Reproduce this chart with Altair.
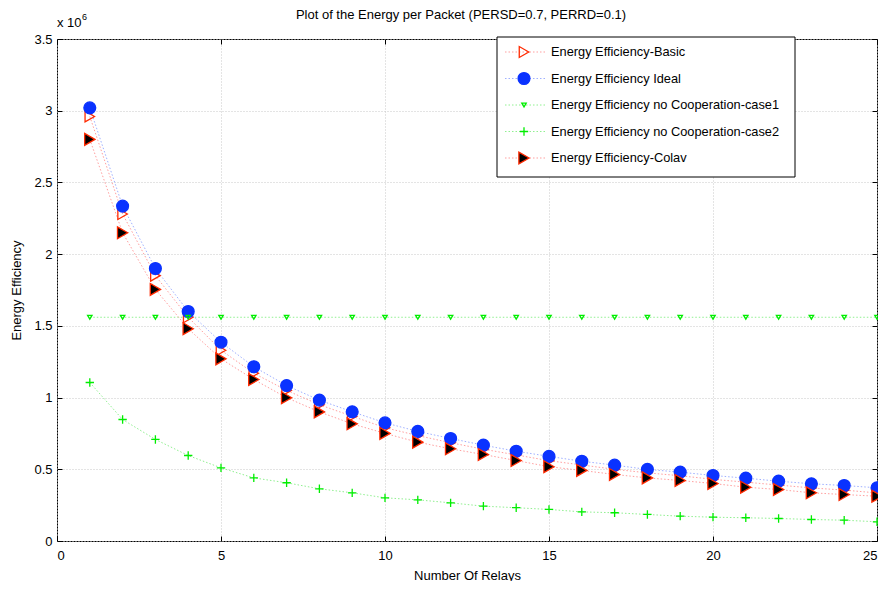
import altair as alt
import pandas as pd

relays = list(range(1, 26))
series_names = [
    "Energy Efficiency-Basic",
    "Energy Efficiency Ideal",
    "Energy Efficiency no Cooperation-case1",
    "Energy Efficiency no Cooperation-case2",
    "Energy Efficiency-Colav",
]
basic = [2.96, 2.28, 1.85, 1.56, 1.33, 1.17, 1.05, 0.95, 0.87, 0.79, 0.735, 0.685, 0.64, 0.60,
         0.56, 0.53, 0.50, 0.475, 0.455, 0.43, 0.41, 0.39, 0.37, 0.355, 0.335]
ideal = [3.02, 2.335, 1.90, 1.60, 1.386, 1.215, 1.084, 0.982, 0.901, 0.824, 0.764, 0.715, 0.668,
         0.626, 0.59, 0.556, 0.529, 0.499, 0.48, 0.457, 0.438, 0.417, 0.399, 0.387, 0.371]
case1 = [1.56] * 25
case2 = [1.105, 0.847, 0.708, 0.596, 0.51, 0.44, 0.406, 0.364, 0.336, 0.301, 0.287, 0.266, 0.243,
         0.232, 0.22, 0.203, 0.197, 0.185, 0.173, 0.166, 0.162, 0.157, 0.15, 0.145, 0.134]
colav = [2.80, 2.149, 1.754, 1.48, 1.27, 1.126, 0.999, 0.90, 0.817, 0.75, 0.689, 0.643, 0.603,
         0.561, 0.518, 0.492, 0.464, 0.44, 0.422, 0.401, 0.375, 0.359, 0.336, 0.324, 0.312]

rows = []
for name, vals in zip(series_names, [basic, ideal, case1, case2, colav]):
    for r, v in zip(relays, vals):
        rows.append({"relays": r, "value": v, "series": name})
df = pd.DataFrame(rows)
leg_df = pd.DataFrame({"series": series_names})

FONT = "Liberation Sans"
RED = "#ff2a00"
BLUE = "#0a32ff"
GREEN = "#00ee00"
PLUS = "M-1,0L1,0M0,-1L0,1"

xs = alt.Scale(domain=[0, 25], nice=False, zero=False)
ys = alt.Scale(domain=[0, 3.5], nice=False)
xticks = [0, 5, 10, 15, 20, 25]
yticks = [0, 0.5, 1, 1.5, 2, 2.5, 3, 3.5]

shape_scale = alt.Scale(domain=series_names,
                        range=["triangle-right", "circle", "triangle-down", PLUS, "triangle-right"])
stroke_scale = alt.Scale(domain=series_names, range=[RED, BLUE, GREEN, GREEN, RED])
fill_scale = alt.Scale(domain=series_names,
                       range=["transparent", BLUE, "transparent", "transparent", "black"])
line_scale = alt.Scale(domain=series_names,
                       range=["#ff9f9f", "#9fb0ff", "#90f090", "#90f090", "#ff9f9f"])
leg_y = alt.Scale(type="point", domain=series_names, range=[13, 119], padding=0)

sizes = {series_names[0]: 120, series_names[1]: 140, series_names[2]: 20,
         series_names[3]: 70, series_names[4]: 140}

base = alt.Chart(df)

lines = base.mark_line(strokeDash=[1.5, 2], strokeWidth=1).encode(
    x=alt.X("relays:Q", scale=xs,
            axis=alt.Axis(values=xticks, title="Number Of Relays", grid=True, ticks=False,
                          domain=False, labelPadding=8, titlePadding=7)),
    y=alt.Y("value:Q", scale=ys,
            axis=alt.Axis(values=yticks, format=".1~f", title="Energy Efficiency", grid=True,
                          ticks=False, domain=False, labelPadding=5, titlePadding=10)),
    color=alt.Color("series:N", legend=None, scale=line_scale),
    detail="series:N",
)

point_layers = []
for name in series_names:
    point_layers.append(
        base.transform_filter(alt.datum.series == name).mark_point(
            strokeWidth=1.3, opacity=1, size=sizes[name]
        ).encode(
            x=alt.X("relays:Q", scale=xs, axis=None),
            y=alt.Y("value:Q", scale=ys, axis=None),
            shape=alt.Shape("series:N", scale=shape_scale, legend=None),
            stroke=alt.Stroke("series:N", scale=stroke_scale, legend=None),
            fill=alt.Fill("series:N", scale=fill_scale, legend=None),
        )
    )

ticks_bl = base.mark_point(opacity=0).encode(
    x=alt.X("relays:Q", scale=xs,
            axis=alt.Axis(values=xticks, orient="bottom", offset=-5, tickSize=5, labels=False,
                          domain=False, grid=False, title=None, tickColor="black")),
    y=alt.Y("value:Q", scale=ys,
            axis=alt.Axis(values=yticks, orient="left", offset=-5, tickSize=5, labels=False,
                          domain=False, grid=False, title=None, tickColor="black")),
)
ticks_tr = base.mark_point(opacity=0).encode(
    x=alt.X("relays:Q", scale=xs,
            axis=alt.Axis(values=xticks, orient="top", offset=-5, tickSize=5, labels=False,
                          domain=False, grid=False, title=None, tickColor="black")),
    y=alt.Y("value:Q", scale=ys,
            axis=alt.Axis(values=yticks, orient="right", offset=-5, tickSize=5, labels=False,
                          domain=False, grid=False, title=None, tickColor="black")),
)

# custom legend (MATLAB style box)
leg_base = alt.Chart(leg_df)
leg_box = alt.Chart(pd.DataFrame({"k": [0]})).mark_rect(
    fill="white", stroke="black", strokeWidth=1
).encode(x=alt.value(440), x2=alt.value(738), y=alt.value(-2), y2=alt.value(138))
leg_lines = leg_base.mark_rule(strokeDash=[1.5, 2], strokeWidth=1).encode(
    x=alt.value(448), x2=alt.value(488),
    y=alt.Y("series:N", scale=leg_y, axis=None),
    color=alt.Color("series:N", legend=None, scale=line_scale),
)
leg_points = []
for name in series_names:
    leg_points.append(
        leg_base.transform_filter(alt.datum.series == name).mark_point(
            strokeWidth=1.3, opacity=1, size=sizes[name]
        ).encode(
            x=alt.value(467),
            y=alt.Y("series:N", scale=leg_y, axis=None),
            shape=alt.Shape("series:N", scale=shape_scale, legend=None),
            stroke=alt.Stroke("series:N", scale=stroke_scale, legend=None),
            fill=alt.Fill("series:N", scale=fill_scale, legend=None),
        )
    )
leg_text = leg_base.mark_text(
    align="left", baseline="middle", font=FONT, fontSize=12.8, color="black"
).encode(
    x=alt.value(494),
    y=alt.Y("series:N", scale=leg_y, axis=None),
    text="series:N",
)

title_text = alt.Chart(pd.DataFrame({"t": ["Plot of the Energy per Packet (PERSD=0.7, PERRD=0.1)"]})).mark_text(
    align="center", baseline="middle", font=FONT, fontSize=13, color="black"
).encode(text="t:N", x=alt.value(404), y=alt.value(-24))
exp_text = alt.Chart(pd.DataFrame({"t": ["x 10"]})).mark_text(
    align="left", baseline="alphabetic", font=FONT, fontSize=13, color="black"
).encode(text="t:N", x=alt.value(0), y=alt.value(-12))
exp_sup = alt.Chart(pd.DataFrame({"t": ["6"]})).mark_text(
    align="left", baseline="alphabetic", font=FONT, fontSize=9, color="black"
).encode(text="t:N", x=alt.value(25), y=alt.value(-19))

chart = alt.layer(
    lines, *point_layers, ticks_bl, ticks_tr,
    leg_box, leg_lines, *leg_points, leg_text,
    title_text, exp_text, exp_sup,
).resolve_scale(
    y="independent"
).resolve_axis(
    x="independent", y="independent"
).properties(
    width=820,
    height=502,
    autosize=alt.AutoSizeParams(type="none"),
    padding={"left": 49, "top": 31, "right": 1, "bottom": 40},
).configure_view(
    stroke="black", strokeWidth=1
).configure_axis(
    labelFont=FONT, labelFontSize=13, labelColor="black",
    titleFont=FONT, titleFontSize=13, titleFontWeight="normal", titleColor="black",
    gridColor="#c8c8c8", gridDash=[1, 2], gridWidth=1,
)

chart.save("out.html", embed_options={"renderer": "svg", "actions": False})
